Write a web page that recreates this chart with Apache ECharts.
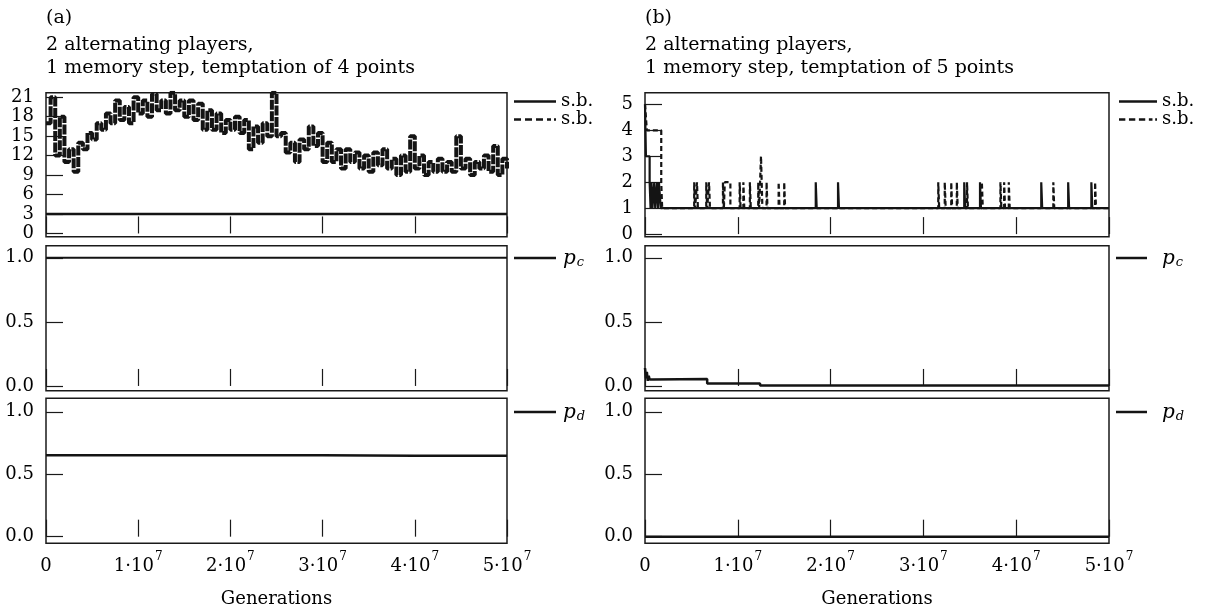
<!DOCTYPE html>
<html><head><meta charset="utf-8">
<script src="https://cdn.jsdelivr.net/npm/echarts@6/dist/echarts.min.js"></script>
<style>html,body{margin:0;padding:0;background:#fff}#c{width:1205px;height:612px}</style>
</head><body><div id="c"></div>
<script>
// ---------- data ----------
// x axis
const xTickValues = [0, 1e7, 2e7, 3e7, 4e7, 5e7];
const xTickMantissa = ['0', '1', '2', '3', '4', '5'];
const xTickExponent = '7';
// y ticks
const yTicksSbA = [0, 3, 6, 9, 12, 15, 18, 21];
const yTicksSbB = [0, 1, 2, 3, 4, 5];
const yTicksP = [0, 0.5, 1.0];

// panel (a): temptation 4, s.b. traces sampled every 0.5e6 generations
const A_STEP = 5e5;
const sbDashA = [
  17, 21, 12, 18, 11, 13, 9.5, 14, 13, 15.5,
  14.5, 17, 16, 18.5, 17, 20.5, 17.5, 19.5, 17, 21,
  18.5, 20.5, 18, 21.5, 19, 20.5, 18.5, 21.7, 19, 20.5,
  18, 20.5, 17.5, 20, 16, 19, 16, 18.5, 15.5, 17.5,
  16, 18, 15.5, 17.5, 13, 16.5, 14, 17, 15, 21.7,
  15, 15.5, 12.5, 14, 11, 14.5, 13, 16.5, 13.5, 15.5,
  11, 14, 11, 13, 10, 13, 11, 12.5, 10, 12,
  9.5, 12.5, 10.5, 13, 10, 11.5, 9, 12, 9.5, 15,
  10, 12, 9, 11, 9.5, 11.5, 9.5, 11, 9.5, 15,
  10, 11.5, 9, 11, 10, 12, 9.5, 13.5, 9, 11.5,
  10
];
const P_STEP = 1e7;
const sbSolidA = [3, 3, 3, 3, 3, 3];
const pcA = [1.0, 1.0, 1.0, 1.0, 1.0, 1.0];
const pdA = [0.652, 0.652, 0.652, 0.648, 0.648, 0.648];

// panel (b): temptation 5; [generation (millions), value]
const sbSolidBStart = [[0, 5], [0.1, 3], [0.5, 2], [0.6, 1], [0.7, 2], [0.8, 1], [1.0, 2], [1.1, 1], [1.3, 2], [1.4, 1], [1.5, 2], [1.7, 1]];
const sbDashBStart = [[0, 5], [0.2, 4], [1.75, 2], [1.85, 1]];
// excursions: [generation (millions), level, duration (millions)]
const sbDashBSpikes = [[5.3, 2, 0.1], [5.6, 2, 0.1], [6.6, 2, 0.1], [6.9, 2, 0.1], [8.4, 2, 0.1], [8.6, 2, 0.6], [10.2, 2, 0.1], [10.6, 2, 0.1], [11.3, 2, 0.1], [12.2, 2, 0.1], [12.5, 3, 0.15], [13.1, 2, 0.1], [14.4, 2, 0.1], [15.0, 2, 0.1], [31.6, 2, 0.1], [32.3, 2, 0.1], [33.0, 2, 0.1], [33.6, 2, 0.1], [34.7, 2, 0.1], [36.3, 2, 0.1], [38.3, 2, 0.1], [38.7, 2, 0.1], [39.2, 2, 0.1], [44.0, 2, 0.1], [48.5, 2, 0.1]];
const sbSolidBSpikes = [[18.4, 2, 0.1], [20.8, 2, 0.1], [34.4, 2, 0.1], [36.1, 2, 0.1], [42.7, 2, 0.1], [45.6, 2, 0.1], [48.1, 2, 0.1]];
const sbBaseB = 1;
const pcB = [[0, 0.14], [0.1, 0.06], [0.2, 0.11], [0.3, 0.04], [0.4, 0.08], [0.5, 0.05], [0.8, 0.055], [6.7, 0.02], [12.4, 0.003], [50, 0.003]];
const pdB = [[0, 0.0], [50, 0.0]];

// ---------- chart ----------
const FONT = 'DejaVu Serif';
const INK = '#141414';
const M = 1e6;

function buildSpikes(start, spikes, base, end) {
  const pts = start.map(p => [p[0] * M, p[1]]);
  spikes.forEach(s => { pts.push([s[0] * M, s[1]]); pts.push([(s[0] + s[2]) * M, base]); });
  pts.push([end * M, base]);
  return pts;
}

const gridBase = {show: true, borderColor: '#1a1a1a', borderWidth: 1.5, backgroundColor: 'transparent'};
const grids = [
  {left: 46, top: 92.7, width: 461, height: 144},
  {left: 46, top: 245.7, width: 461, height: 145},
  {left: 46, top: 398.3, width: 461, height: 145},
  {left: 645, top: 92.7, width: 464, height: 144},
  {left: 645, top: 245.7, width: 464, height: 145},
  {left: 645, top: 398.3, width: 464, height: 145}
].map(g => Object.assign({}, gridBase, g));

const tickStyle = {color: '#1a1a1a', width: 1.2};
function xAx(i, bottom) {
  return {
    type: 'value', gridIndex: i, min: 0, max: 5e7, interval: 1e7,
    axisLine: {show: false}, splitLine: {show: false},
    axisTick: {show: true, inside: true, length: 17, lineStyle: tickStyle},
    axisLabel: {
      show: bottom, margin: 8,
      formatter: v => {
        const k = xTickValues.indexOf(v);
        if (k <= 0) return '{n|' + xTickMantissa[0] + '}';
        return '{n|' + xTickMantissa[k] + '·10}{e|' + xTickExponent + '}';
      },
      rich: {
        n: {fontFamily: FONT, fontSize: 18, color: '#000', lineHeight: 24, verticalAlign: 'bottom'},
        e: {fontFamily: FONT, fontSize: 12, color: '#000', lineHeight: 24, verticalAlign: 'top', padding: [0, 0, 0, 1]}
      }
    },
    name: bottom ? 'Generations' : '', nameLocation: 'middle', nameGap: 47,
    nameTextStyle: {fontFamily: FONT, fontSize: 18, color: '#000'}
  };
}
function yAx(i, min, max, ticks, fmt) {
  return {
    type: 'value', gridIndex: i, min: min, max: max,
    axisLine: {show: false}, splitLine: {show: false},
    axisTick: {show: true, inside: true, length: 17, customValues: ticks, lineStyle: tickStyle},
    axisLabel: {margin: 12, customValues: ticks, formatter: fmt, color: '#000', fontFamily: FONT, fontSize: 18}
  };
}
const fmtInt = v => String(Math.round(v));
const fmtP = v => v.toFixed(1);

const line = (name, xi, data, width, type, step) => ({
  type: 'line', name: name, xAxisIndex: xi, yAxisIndex: xi, data: data, step: step,
  symbol: 'none', animation: false, silent: true,
  lineStyle: {color: INK, width: width, type: type}, itemStyle: {color: INK}
});

const series = [
  line('sbDashA', 0, sbDashA.map((v, i) => [i * A_STEP, v]), 4, [10, 1.5], 'end'),
  line('sbSolidA', 0, sbSolidA.map((v, i) => [i * P_STEP, v]), 2.5, 'solid', 'end'),
  line('pcA', 1, pcA.map((v, i) => [i * P_STEP, v]), 2, 'solid', 'end'),
  line('pdA', 2, pdA.map((v, i) => [i * P_STEP, v]), 2.5, 'solid', 'end'),
  line('sbDashB', 3, buildSpikes(sbDashBStart, sbDashBSpikes, sbBaseB, 50), 2.2, [5, 3], 'end'),
  line('sbSolidB', 3, buildSpikes(sbSolidBStart, sbSolidBSpikes, sbBaseB, 50), 2.2, 'solid', 'end'),
  line('pcB', 4, pcB.map(p => [p[0] * M, p[1]]), 2.5, 'solid', 'end'),
  line('pdB', 5, pdB.map(p => [p[0] * M, p[1]]), 2.5, 'solid', 'end')
];

const ICON_SOLID = 'rect';
const ICON_DASH = 'path://M0,0h7v2.5h-7z M11,0h7v2.5h-7z M22,0h7v2.5h-7z M33,0h4v2.5h-4z M40,0h2v2.5h-2z';
const labelText = {sbDashA: 's.b.', sbSolidA: 's.b.', sbDashB: 's.b.', sbSolidB: 's.b.',
  pcA: '{p|p}{s|c}', pdA: '{p|p}{s|d}', pcB: '{p|p}{s|c}', pdB: '{p|p}{s|d}'};
const richP = (padL) => ({
  p: {fontFamily: FONT, fontSize: 20, fontStyle: 'italic', color: '#000', lineHeight: 22, verticalAlign: 'bottom', padding: [0, 0, 0, padL]},
  s: {fontFamily: FONT, fontSize: 13, fontStyle: 'italic', color: '#000', lineHeight: 12, verticalAlign: 'bottom', padding: [0, 0, 0, 1]}
});
function leg(items, left, top, w, padL) {
  return {
    orient: 'vertical', left: left, top: top, itemWidth: w, itemHeight: 2.5, itemGap: 0,
    selectedMode: false, padding: 0, symbolKeepAspect: false,
    itemStyle: {color: INK, borderWidth: 0},
    data: items.map(it => ({name: it[0], icon: it[1]})), formatter: n => labelText[n],
    textStyle: {fontFamily: FONT, fontSize: 18, color: '#000', lineHeight: 18, rich: richP(padL)}
  };
}

const titleStyle = {fontFamily: FONT, fontSize: 19, fontWeight: 'normal', color: '#000', lineHeight: 23};
const option = {
  backgroundColor: '#fff',
  animation: false,
  title: [
    {text: '(a)', left: 46, top: 7, textStyle: titleStyle, padding: 0},
    {text: '2 alternating players,\n1 memory step, temptation of 4 points', left: 46, top: 34, textStyle: titleStyle, padding: 0},
    {text: '(b)', left: 645, top: 7, textStyle: titleStyle, padding: 0},
    {text: '2 alternating players,\n1 memory step, temptation of 5 points', left: 645, top: 34, textStyle: titleStyle, padding: 0}
  ],
  legend: [
    leg([['sbSolidA', ICON_SOLID], ['sbDashA', ICON_DASH]], 514, 92.5, 42, 0),
    leg([['pcA', ICON_SOLID]], 514, 247, 42, 2),
    leg([['pdA', ICON_SOLID]], 514, 401, 42, 2),
    leg([['sbSolidB', ICON_SOLID], ['sbDashB', ICON_DASH]], 1119, 92.5, 38, 0),
    leg([['pcB', ICON_SOLID]], 1116, 247, 31, 10),
    leg([['pdB', ICON_SOLID]], 1116, 401, 31, 10)
  ],
  grid: grids,
  xAxis: [xAx(0, false), xAx(1, false), xAx(2, true), xAx(3, false), xAx(4, false), xAx(5, true)],
  yAxis: [
    yAx(0, -0.5, 21.7, yTicksSbA, fmtInt),
    yAx(1, -0.037, 1.094, yTicksP, fmtP),
    yAx(2, -0.053, 1.108, yTicksP, fmtP),
    yAx(3, -0.1, 5.45, yTicksSbB, fmtInt),
    yAx(4, -0.037, 1.094, yTicksP, fmtP),
    yAx(5, -0.053, 1.108, yTicksP, fmtP)
  ],
  series: series
};
const chart = echarts.init(document.getElementById('c'), null, {renderer: 'canvas'});
chart.setOption(option);
</script>
</body></html>
